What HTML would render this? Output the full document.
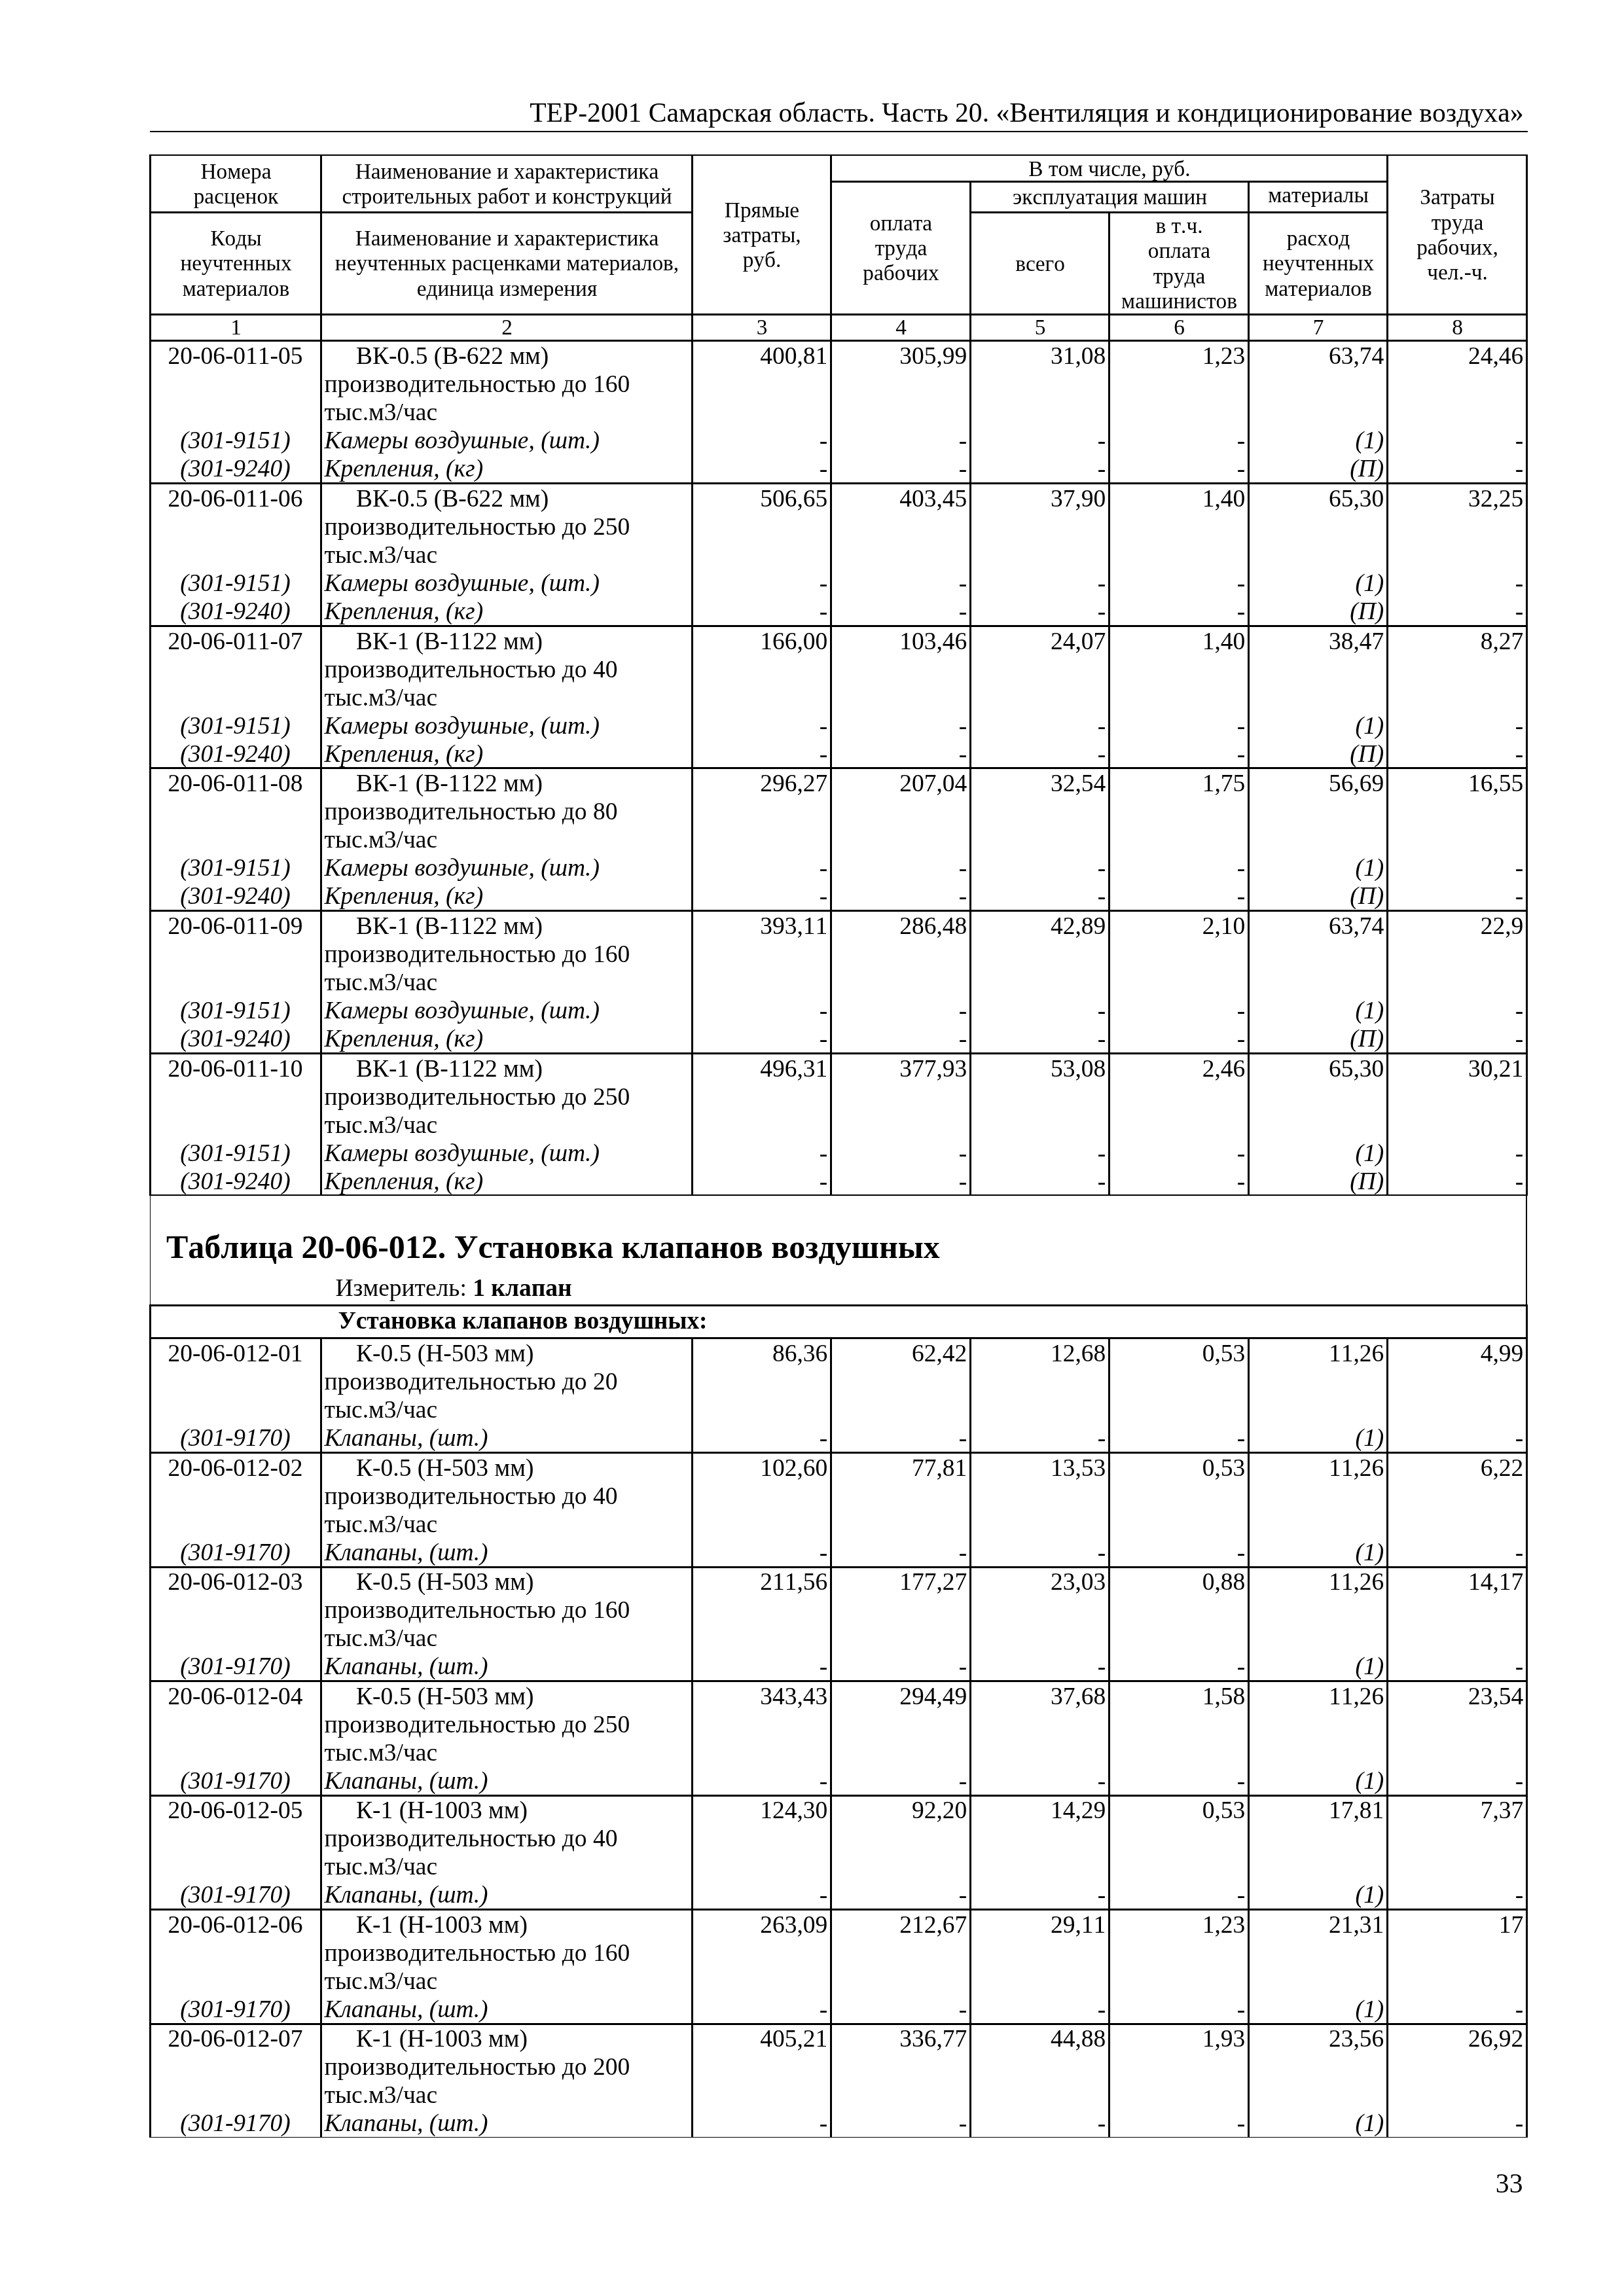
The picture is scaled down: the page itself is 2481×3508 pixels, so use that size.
<!DOCTYPE html>
<html lang="ru"><head><meta charset="utf-8"><title>ТЕР-2001 Самарская область. Часть 20</title>
<style>
html,body{margin:0;padding:0;background:#fff;}
body{filter:grayscale(1);}
body{width:2481px;height:3508px;position:relative;overflow:hidden;font-family:"Liberation Serif","Times New Roman",serif;color:#000;font-kerning:none;font-variant-ligatures:none;font-feature-settings:"kern" 0;}
.r{position:absolute;background:#000;}
.t{position:absolute;white-space:nowrap;}
.i{font-style:italic;}.b{font-weight:bold;}
.s8{font-size:33.333px;line-height:37px;}.s9{font-size:37.5px;line-height:41px;}.s10{font-size:41.667px;line-height:46px;}.s12{font-size:50px;line-height:56px;}
</style></head><body>
<div class="r" style="left:229px;top:200px;width:2105px;height:2px"></div>
<div class="r" style="left:228px;top:236px;width:2106px;height:2px"></div>
<div class="r" style="left:1268px;top:276px;width:853px;height:3px"></div>
<div class="r" style="left:228px;top:323px;width:831px;height:3px"></div>
<div class="r" style="left:1481px;top:323px;width:640px;height:3px"></div>
<div class="r" style="left:228px;top:479px;width:2106px;height:3px"></div>
<div class="r" style="left:228px;top:519px;width:2106px;height:3px"></div>
<div class="r" style="left:228px;top:737px;width:2106px;height:3px"></div>
<div class="r" style="left:228px;top:955px;width:2106px;height:3px"></div>
<div class="r" style="left:228px;top:1172px;width:2106px;height:3px"></div>
<div class="r" style="left:228px;top:1390px;width:2106px;height:3px"></div>
<div class="r" style="left:228px;top:1608px;width:2106px;height:3px"></div>
<div class="r" style="left:228px;top:1825px;width:2106px;height:2px"></div>
<div class="r" style="left:228px;top:236px;width:3px;height:1591px"></div>
<div class="r" style="left:489px;top:236px;width:3px;height:1591px"></div>
<div class="r" style="left:1056px;top:236px;width:3px;height:1591px"></div>
<div class="r" style="left:1268px;top:236px;width:3px;height:1591px"></div>
<div class="r" style="left:2118px;top:236px;width:3px;height:1591px"></div>
<div class="r" style="left:1481px;top:276px;width:3px;height:1551px"></div>
<div class="r" style="left:1906px;top:276px;width:3px;height:1551px"></div>
<div class="r" style="left:1693px;top:323px;width:3px;height:1504px"></div>
<div class="r" style="left:2331px;top:236px;width:3px;height:1591px"></div>
<div class="r" style="left:229px;top:1827px;width:1px;height:166px"></div>
<div class="r" style="left:2331px;top:1827px;width:2px;height:166px"></div>
<div class="r" style="left:228px;top:1993px;width:2106px;height:3px"></div>
<div class="r" style="left:228px;top:2043px;width:2106px;height:3px"></div>
<div class="r" style="left:228px;top:2218px;width:2106px;height:3px"></div>
<div class="r" style="left:228px;top:2393px;width:2106px;height:3px"></div>
<div class="r" style="left:228px;top:2567px;width:2106px;height:3px"></div>
<div class="r" style="left:228px;top:2742px;width:2106px;height:3px"></div>
<div class="r" style="left:228px;top:2916px;width:2106px;height:3px"></div>
<div class="r" style="left:228px;top:3091px;width:2106px;height:3px"></div>
<div class="r" style="left:228px;top:3265px;width:2106px;height:1px"></div>
<div class="r" style="left:228px;top:1993px;width:3px;height:1273px"></div>
<div class="r" style="left:2331px;top:1993px;width:3px;height:1273px"></div>
<div class="r" style="left:489px;top:2043px;width:3px;height:1223px"></div>
<div class="r" style="left:1056px;top:2043px;width:3px;height:1223px"></div>
<div class="r" style="left:1268px;top:2043px;width:3px;height:1223px"></div>
<div class="r" style="left:1481px;top:2043px;width:3px;height:1223px"></div>
<div class="r" style="left:1693px;top:2043px;width:3px;height:1223px"></div>
<div class="r" style="left:1906px;top:2043px;width:3px;height:1223px"></div>
<div class="r" style="left:2118px;top:2043px;width:3px;height:1223px"></div>
<div class="t s10" style="right:153.50px;top:149px;text-align:right">ТЕР-2001 Самарская область. Часть 20. «Вентиляция и кондиционирование воздуха»</div>
<div class="t s8" style="left:-139.50px;width:1000px;top:243px;text-align:center">Номера</div>
<div class="t s8" style="left:-139.50px;width:1000px;top:281px;text-align:center">расценок</div>
<div class="t s8" style="left:-139.50px;width:1000px;top:345px;text-align:center">Коды</div>
<div class="t s8" style="left:-139.50px;width:1000px;top:383px;text-align:center">неучтенных</div>
<div class="t s8" style="left:-139.50px;width:1000px;top:422px;text-align:center">материалов</div>
<div class="t s8" style="left:274.50px;width:1000px;top:243px;text-align:center">Наименование и характеристика</div>
<div class="t s8" style="left:274.50px;width:1000px;top:281px;text-align:center">строительных работ и конструкций</div>
<div class="t s8" style="left:274.50px;width:1000px;top:345px;text-align:center">Наименование и характеристика</div>
<div class="t s8" style="left:274.50px;width:1000px;top:383px;text-align:center">неучтенных расценками материалов,</div>
<div class="t s8" style="left:274.50px;width:1000px;top:422px;text-align:center">единица измерения</div>
<div class="t s8" style="left:664.00px;width:1000px;top:302px;text-align:center">Прямые</div>
<div class="t s8" style="left:664.00px;width:1000px;top:340px;text-align:center">затраты,</div>
<div class="t s8" style="left:664.00px;width:1000px;top:378px;text-align:center">руб.</div>
<div class="t s8" style="left:1195.00px;width:1000px;top:239px;text-align:center">В том числе, руб.</div>
<div class="t s8" style="left:876.50px;width:1000px;top:322px;text-align:center">оплата</div>
<div class="t s8" style="left:876.50px;width:1000px;top:360px;text-align:center">труда</div>
<div class="t s8" style="left:876.50px;width:1000px;top:398px;text-align:center">рабочих</div>
<div class="t s8" style="left:1195.50px;width:1000px;top:282px;text-align:center">эксплуатация машин</div>
<div class="t s8" style="left:1514.00px;width:1000px;top:279px;text-align:center">материалы</div>
<div class="t s8" style="left:1089.00px;width:1000px;top:384px;text-align:center">всего</div>
<div class="t s8" style="left:1301.50px;width:1000px;top:326px;text-align:center">в т.ч.</div>
<div class="t s8" style="left:1301.50px;width:1000px;top:364px;text-align:center">оплата</div>
<div class="t s8" style="left:1301.50px;width:1000px;top:403px;text-align:center">труда</div>
<div class="t s8" style="left:1301.50px;width:1000px;top:441px;text-align:center">машинистов</div>
<div class="t s8" style="left:1514.00px;width:1000px;top:345px;text-align:center">расход</div>
<div class="t s8" style="left:1514.00px;width:1000px;top:383px;text-align:center">неучтенных</div>
<div class="t s8" style="left:1514.00px;width:1000px;top:422px;text-align:center">материалов</div>
<div class="t s8" style="left:1726.50px;width:1000px;top:282px;text-align:center">Затраты</div>
<div class="t s8" style="left:1726.50px;width:1000px;top:321px;text-align:center">труда</div>
<div class="t s8" style="left:1726.50px;width:1000px;top:359px;text-align:center">рабочих,</div>
<div class="t s8" style="left:1726.50px;width:1000px;top:397px;text-align:center">чел.-ч.</div>
<div class="t s8" style="left:-139.50px;width:1000px;top:481px;text-align:center">1</div>
<div class="t s8" style="left:274.50px;width:1000px;top:481px;text-align:center">2</div>
<div class="t s8" style="left:664.00px;width:1000px;top:481px;text-align:center">3</div>
<div class="t s8" style="left:876.50px;width:1000px;top:481px;text-align:center">4</div>
<div class="t s8" style="left:1089.00px;width:1000px;top:481px;text-align:center">5</div>
<div class="t s8" style="left:1301.50px;width:1000px;top:481px;text-align:center">6</div>
<div class="t s8" style="left:1514.00px;width:1000px;top:481px;text-align:center">7</div>
<div class="t s8" style="left:1726.50px;width:1000px;top:481px;text-align:center">8</div>
<div class="t s9" style="left:-140.50px;width:1000px;top:523px;text-align:center">20-06-011-05</div>
<div class="t s9" style="left:544.00px;top:523px">ВК-0.5 (В-622 мм)</div>
<div class="t s9" style="left:495.50px;top:566px">производительностью до 160</div>
<div class="t s9" style="left:495.50px;top:609px">тыс.м3/час</div>
<div class="t s9" style="right:1216.70px;top:523px;text-align:right">400,81</div>
<div class="t s9" style="right:1003.70px;top:523px;text-align:right">305,99</div>
<div class="t s9" style="right:791.70px;top:523px;text-align:right">31,08</div>
<div class="t s9" style="right:578.70px;top:523px;text-align:right">1,23</div>
<div class="t s9" style="right:366.70px;top:523px;text-align:right">63,74</div>
<div class="t s9" style="right:153.70px;top:523px;text-align:right">24,46</div>
<div class="t s9 i" style="left:-140.50px;width:1000px;top:652px;text-align:center">(301-9151)</div>
<div class="t s9 i" style="left:495.50px;top:652px">Камеры воздушные, (шт.)</div>
<div class="t s9 i" style="right:1216.70px;top:653px;text-align:right">-</div>
<div class="t s9 i" style="right:1003.70px;top:653px;text-align:right">-</div>
<div class="t s9 i" style="right:791.70px;top:653px;text-align:right">-</div>
<div class="t s9 i" style="right:578.70px;top:653px;text-align:right">-</div>
<div class="t s9 i" style="right:366.70px;top:652px;text-align:right">(1)</div>
<div class="t s9 i" style="right:153.70px;top:653px;text-align:right">-</div>
<div class="t s9 i" style="left:-140.50px;width:1000px;top:695px;text-align:center">(301-9240)</div>
<div class="t s9 i" style="left:495.50px;top:695px">Крепления, (кг)</div>
<div class="t s9 i" style="right:1216.70px;top:696px;text-align:right">-</div>
<div class="t s9 i" style="right:1003.70px;top:696px;text-align:right">-</div>
<div class="t s9 i" style="right:791.70px;top:696px;text-align:right">-</div>
<div class="t s9 i" style="right:578.70px;top:696px;text-align:right">-</div>
<div class="t s9 i" style="right:366.70px;top:695px;text-align:right">(П)</div>
<div class="t s9 i" style="right:153.70px;top:696px;text-align:right">-</div>
<div class="t s9" style="left:-140.50px;width:1000px;top:741px;text-align:center">20-06-011-06</div>
<div class="t s9" style="left:544.00px;top:741px">ВК-0.5 (В-622 мм)</div>
<div class="t s9" style="left:495.50px;top:784px">производительностью до 250</div>
<div class="t s9" style="left:495.50px;top:827px">тыс.м3/час</div>
<div class="t s9" style="right:1216.70px;top:741px;text-align:right">506,65</div>
<div class="t s9" style="right:1003.70px;top:741px;text-align:right">403,45</div>
<div class="t s9" style="right:791.70px;top:741px;text-align:right">37,90</div>
<div class="t s9" style="right:578.70px;top:741px;text-align:right">1,40</div>
<div class="t s9" style="right:366.70px;top:741px;text-align:right">65,30</div>
<div class="t s9" style="right:153.70px;top:741px;text-align:right">32,25</div>
<div class="t s9 i" style="left:-140.50px;width:1000px;top:870px;text-align:center">(301-9151)</div>
<div class="t s9 i" style="left:495.50px;top:870px">Камеры воздушные, (шт.)</div>
<div class="t s9 i" style="right:1216.70px;top:871px;text-align:right">-</div>
<div class="t s9 i" style="right:1003.70px;top:871px;text-align:right">-</div>
<div class="t s9 i" style="right:791.70px;top:871px;text-align:right">-</div>
<div class="t s9 i" style="right:578.70px;top:871px;text-align:right">-</div>
<div class="t s9 i" style="right:366.70px;top:870px;text-align:right">(1)</div>
<div class="t s9 i" style="right:153.70px;top:871px;text-align:right">-</div>
<div class="t s9 i" style="left:-140.50px;width:1000px;top:913px;text-align:center">(301-9240)</div>
<div class="t s9 i" style="left:495.50px;top:913px">Крепления, (кг)</div>
<div class="t s9 i" style="right:1216.70px;top:914px;text-align:right">-</div>
<div class="t s9 i" style="right:1003.70px;top:914px;text-align:right">-</div>
<div class="t s9 i" style="right:791.70px;top:914px;text-align:right">-</div>
<div class="t s9 i" style="right:578.70px;top:914px;text-align:right">-</div>
<div class="t s9 i" style="right:366.70px;top:913px;text-align:right">(П)</div>
<div class="t s9 i" style="right:153.70px;top:914px;text-align:right">-</div>
<div class="t s9" style="left:-140.50px;width:1000px;top:959px;text-align:center">20-06-011-07</div>
<div class="t s9" style="left:544.00px;top:959px">ВК-1 (В-1122 мм)</div>
<div class="t s9" style="left:495.50px;top:1002px">производительностью до 40</div>
<div class="t s9" style="left:495.50px;top:1045px">тыс.м3/час</div>
<div class="t s9" style="right:1216.70px;top:959px;text-align:right">166,00</div>
<div class="t s9" style="right:1003.70px;top:959px;text-align:right">103,46</div>
<div class="t s9" style="right:791.70px;top:959px;text-align:right">24,07</div>
<div class="t s9" style="right:578.70px;top:959px;text-align:right">1,40</div>
<div class="t s9" style="right:366.70px;top:959px;text-align:right">38,47</div>
<div class="t s9" style="right:153.70px;top:959px;text-align:right">8,27</div>
<div class="t s9 i" style="left:-140.50px;width:1000px;top:1088px;text-align:center">(301-9151)</div>
<div class="t s9 i" style="left:495.50px;top:1088px">Камеры воздушные, (шт.)</div>
<div class="t s9 i" style="right:1216.70px;top:1089px;text-align:right">-</div>
<div class="t s9 i" style="right:1003.70px;top:1089px;text-align:right">-</div>
<div class="t s9 i" style="right:791.70px;top:1089px;text-align:right">-</div>
<div class="t s9 i" style="right:578.70px;top:1089px;text-align:right">-</div>
<div class="t s9 i" style="right:366.70px;top:1088px;text-align:right">(1)</div>
<div class="t s9 i" style="right:153.70px;top:1089px;text-align:right">-</div>
<div class="t s9 i" style="left:-140.50px;width:1000px;top:1131px;text-align:center">(301-9240)</div>
<div class="t s9 i" style="left:495.50px;top:1131px">Крепления, (кг)</div>
<div class="t s9 i" style="right:1216.70px;top:1132px;text-align:right">-</div>
<div class="t s9 i" style="right:1003.70px;top:1132px;text-align:right">-</div>
<div class="t s9 i" style="right:791.70px;top:1132px;text-align:right">-</div>
<div class="t s9 i" style="right:578.70px;top:1132px;text-align:right">-</div>
<div class="t s9 i" style="right:366.70px;top:1131px;text-align:right">(П)</div>
<div class="t s9 i" style="right:153.70px;top:1132px;text-align:right">-</div>
<div class="t s9" style="left:-140.50px;width:1000px;top:1176px;text-align:center">20-06-011-08</div>
<div class="t s9" style="left:544.00px;top:1176px">ВК-1 (В-1122 мм)</div>
<div class="t s9" style="left:495.50px;top:1219px">производительностью до 80</div>
<div class="t s9" style="left:495.50px;top:1262px">тыс.м3/час</div>
<div class="t s9" style="right:1216.70px;top:1176px;text-align:right">296,27</div>
<div class="t s9" style="right:1003.70px;top:1176px;text-align:right">207,04</div>
<div class="t s9" style="right:791.70px;top:1176px;text-align:right">32,54</div>
<div class="t s9" style="right:578.70px;top:1176px;text-align:right">1,75</div>
<div class="t s9" style="right:366.70px;top:1176px;text-align:right">56,69</div>
<div class="t s9" style="right:153.70px;top:1176px;text-align:right">16,55</div>
<div class="t s9 i" style="left:-140.50px;width:1000px;top:1305px;text-align:center">(301-9151)</div>
<div class="t s9 i" style="left:495.50px;top:1305px">Камеры воздушные, (шт.)</div>
<div class="t s9 i" style="right:1216.70px;top:1306px;text-align:right">-</div>
<div class="t s9 i" style="right:1003.70px;top:1306px;text-align:right">-</div>
<div class="t s9 i" style="right:791.70px;top:1306px;text-align:right">-</div>
<div class="t s9 i" style="right:578.70px;top:1306px;text-align:right">-</div>
<div class="t s9 i" style="right:366.70px;top:1305px;text-align:right">(1)</div>
<div class="t s9 i" style="right:153.70px;top:1306px;text-align:right">-</div>
<div class="t s9 i" style="left:-140.50px;width:1000px;top:1348px;text-align:center">(301-9240)</div>
<div class="t s9 i" style="left:495.50px;top:1348px">Крепления, (кг)</div>
<div class="t s9 i" style="right:1216.70px;top:1349px;text-align:right">-</div>
<div class="t s9 i" style="right:1003.70px;top:1349px;text-align:right">-</div>
<div class="t s9 i" style="right:791.70px;top:1349px;text-align:right">-</div>
<div class="t s9 i" style="right:578.70px;top:1349px;text-align:right">-</div>
<div class="t s9 i" style="right:366.70px;top:1348px;text-align:right">(П)</div>
<div class="t s9 i" style="right:153.70px;top:1349px;text-align:right">-</div>
<div class="t s9" style="left:-140.50px;width:1000px;top:1394px;text-align:center">20-06-011-09</div>
<div class="t s9" style="left:544.00px;top:1394px">ВК-1 (В-1122 мм)</div>
<div class="t s9" style="left:495.50px;top:1437px">производительностью до 160</div>
<div class="t s9" style="left:495.50px;top:1480px">тыс.м3/час</div>
<div class="t s9" style="right:1216.70px;top:1394px;text-align:right">393,11</div>
<div class="t s9" style="right:1003.70px;top:1394px;text-align:right">286,48</div>
<div class="t s9" style="right:791.70px;top:1394px;text-align:right">42,89</div>
<div class="t s9" style="right:578.70px;top:1394px;text-align:right">2,10</div>
<div class="t s9" style="right:366.70px;top:1394px;text-align:right">63,74</div>
<div class="t s9" style="right:153.70px;top:1394px;text-align:right">22,9</div>
<div class="t s9 i" style="left:-140.50px;width:1000px;top:1523px;text-align:center">(301-9151)</div>
<div class="t s9 i" style="left:495.50px;top:1523px">Камеры воздушные, (шт.)</div>
<div class="t s9 i" style="right:1216.70px;top:1524px;text-align:right">-</div>
<div class="t s9 i" style="right:1003.70px;top:1524px;text-align:right">-</div>
<div class="t s9 i" style="right:791.70px;top:1524px;text-align:right">-</div>
<div class="t s9 i" style="right:578.70px;top:1524px;text-align:right">-</div>
<div class="t s9 i" style="right:366.70px;top:1523px;text-align:right">(1)</div>
<div class="t s9 i" style="right:153.70px;top:1524px;text-align:right">-</div>
<div class="t s9 i" style="left:-140.50px;width:1000px;top:1566px;text-align:center">(301-9240)</div>
<div class="t s9 i" style="left:495.50px;top:1566px">Крепления, (кг)</div>
<div class="t s9 i" style="right:1216.70px;top:1567px;text-align:right">-</div>
<div class="t s9 i" style="right:1003.70px;top:1567px;text-align:right">-</div>
<div class="t s9 i" style="right:791.70px;top:1567px;text-align:right">-</div>
<div class="t s9 i" style="right:578.70px;top:1567px;text-align:right">-</div>
<div class="t s9 i" style="right:366.70px;top:1566px;text-align:right">(П)</div>
<div class="t s9 i" style="right:153.70px;top:1567px;text-align:right">-</div>
<div class="t s9" style="left:-140.50px;width:1000px;top:1612px;text-align:center">20-06-011-10</div>
<div class="t s9" style="left:544.00px;top:1612px">ВК-1 (В-1122 мм)</div>
<div class="t s9" style="left:495.50px;top:1655px">производительностью до 250</div>
<div class="t s9" style="left:495.50px;top:1698px">тыс.м3/час</div>
<div class="t s9" style="right:1216.70px;top:1612px;text-align:right">496,31</div>
<div class="t s9" style="right:1003.70px;top:1612px;text-align:right">377,93</div>
<div class="t s9" style="right:791.70px;top:1612px;text-align:right">53,08</div>
<div class="t s9" style="right:578.70px;top:1612px;text-align:right">2,46</div>
<div class="t s9" style="right:366.70px;top:1612px;text-align:right">65,30</div>
<div class="t s9" style="right:153.70px;top:1612px;text-align:right">30,21</div>
<div class="t s9 i" style="left:-140.50px;width:1000px;top:1741px;text-align:center">(301-9151)</div>
<div class="t s9 i" style="left:495.50px;top:1741px">Камеры воздушные, (шт.)</div>
<div class="t s9 i" style="right:1216.70px;top:1742px;text-align:right">-</div>
<div class="t s9 i" style="right:1003.70px;top:1742px;text-align:right">-</div>
<div class="t s9 i" style="right:791.70px;top:1742px;text-align:right">-</div>
<div class="t s9 i" style="right:578.70px;top:1742px;text-align:right">-</div>
<div class="t s9 i" style="right:366.70px;top:1741px;text-align:right">(1)</div>
<div class="t s9 i" style="right:153.70px;top:1742px;text-align:right">-</div>
<div class="t s9 i" style="left:-140.50px;width:1000px;top:1784px;text-align:center">(301-9240)</div>
<div class="t s9 i" style="left:495.50px;top:1784px">Крепления, (кг)</div>
<div class="t s9 i" style="right:1216.70px;top:1785px;text-align:right">-</div>
<div class="t s9 i" style="right:1003.70px;top:1785px;text-align:right">-</div>
<div class="t s9 i" style="right:791.70px;top:1785px;text-align:right">-</div>
<div class="t s9 i" style="right:578.70px;top:1785px;text-align:right">-</div>
<div class="t s9 i" style="right:366.70px;top:1784px;text-align:right">(П)</div>
<div class="t s9 i" style="right:153.70px;top:1785px;text-align:right">-</div>
<div class="t s12 b" style="left:254.00px;top:1877px">Таблица 20-06-012. Установка клапанов воздушных</div>
<div class="t s9" style="left:512.50px;top:1947px">Измеритель: <b>1 клапан</b></div>
<div class="t s9 b" style="left:516.50px;top:1997px;letter-spacing:-0.18px">Установка клапанов воздушных:</div>
<div class="t s9" style="left:-140.50px;width:1000px;top:2047px;text-align:center">20-06-012-01</div>
<div class="t s9" style="left:544.00px;top:2047px">К-0.5 (Н-503 мм)</div>
<div class="t s9" style="left:495.50px;top:2090px">производительностью до 20</div>
<div class="t s9" style="left:495.50px;top:2133px">тыс.м3/час</div>
<div class="t s9" style="right:1216.70px;top:2047px;text-align:right">86,36</div>
<div class="t s9" style="right:1003.70px;top:2047px;text-align:right">62,42</div>
<div class="t s9" style="right:791.70px;top:2047px;text-align:right">12,68</div>
<div class="t s9" style="right:578.70px;top:2047px;text-align:right">0,53</div>
<div class="t s9" style="right:366.70px;top:2047px;text-align:right">11,26</div>
<div class="t s9" style="right:153.70px;top:2047px;text-align:right">4,99</div>
<div class="t s9 i" style="left:-140.50px;width:1000px;top:2176px;text-align:center">(301-9170)</div>
<div class="t s9 i" style="left:495.50px;top:2176px">Клапаны, (шт.)</div>
<div class="t s9 i" style="right:1216.70px;top:2177px;text-align:right">-</div>
<div class="t s9 i" style="right:1003.70px;top:2177px;text-align:right">-</div>
<div class="t s9 i" style="right:791.70px;top:2177px;text-align:right">-</div>
<div class="t s9 i" style="right:578.70px;top:2177px;text-align:right">-</div>
<div class="t s9 i" style="right:366.70px;top:2176px;text-align:right">(1)</div>
<div class="t s9 i" style="right:153.70px;top:2177px;text-align:right">-</div>
<div class="t s9" style="left:-140.50px;width:1000px;top:2222px;text-align:center">20-06-012-02</div>
<div class="t s9" style="left:544.00px;top:2222px">К-0.5 (Н-503 мм)</div>
<div class="t s9" style="left:495.50px;top:2265px">производительностью до 40</div>
<div class="t s9" style="left:495.50px;top:2308px">тыс.м3/час</div>
<div class="t s9" style="right:1216.70px;top:2222px;text-align:right">102,60</div>
<div class="t s9" style="right:1003.70px;top:2222px;text-align:right">77,81</div>
<div class="t s9" style="right:791.70px;top:2222px;text-align:right">13,53</div>
<div class="t s9" style="right:578.70px;top:2222px;text-align:right">0,53</div>
<div class="t s9" style="right:366.70px;top:2222px;text-align:right">11,26</div>
<div class="t s9" style="right:153.70px;top:2222px;text-align:right">6,22</div>
<div class="t s9 i" style="left:-140.50px;width:1000px;top:2351px;text-align:center">(301-9170)</div>
<div class="t s9 i" style="left:495.50px;top:2351px">Клапаны, (шт.)</div>
<div class="t s9 i" style="right:1216.70px;top:2352px;text-align:right">-</div>
<div class="t s9 i" style="right:1003.70px;top:2352px;text-align:right">-</div>
<div class="t s9 i" style="right:791.70px;top:2352px;text-align:right">-</div>
<div class="t s9 i" style="right:578.70px;top:2352px;text-align:right">-</div>
<div class="t s9 i" style="right:366.70px;top:2351px;text-align:right">(1)</div>
<div class="t s9 i" style="right:153.70px;top:2352px;text-align:right">-</div>
<div class="t s9" style="left:-140.50px;width:1000px;top:2396px;text-align:center">20-06-012-03</div>
<div class="t s9" style="left:544.00px;top:2396px">К-0.5 (Н-503 мм)</div>
<div class="t s9" style="left:495.50px;top:2439px">производительностью до 160</div>
<div class="t s9" style="left:495.50px;top:2482px">тыс.м3/час</div>
<div class="t s9" style="right:1216.70px;top:2396px;text-align:right">211,56</div>
<div class="t s9" style="right:1003.70px;top:2396px;text-align:right">177,27</div>
<div class="t s9" style="right:791.70px;top:2396px;text-align:right">23,03</div>
<div class="t s9" style="right:578.70px;top:2396px;text-align:right">0,88</div>
<div class="t s9" style="right:366.70px;top:2396px;text-align:right">11,26</div>
<div class="t s9" style="right:153.70px;top:2396px;text-align:right">14,17</div>
<div class="t s9 i" style="left:-140.50px;width:1000px;top:2525px;text-align:center">(301-9170)</div>
<div class="t s9 i" style="left:495.50px;top:2525px">Клапаны, (шт.)</div>
<div class="t s9 i" style="right:1216.70px;top:2526px;text-align:right">-</div>
<div class="t s9 i" style="right:1003.70px;top:2526px;text-align:right">-</div>
<div class="t s9 i" style="right:791.70px;top:2526px;text-align:right">-</div>
<div class="t s9 i" style="right:578.70px;top:2526px;text-align:right">-</div>
<div class="t s9 i" style="right:366.70px;top:2525px;text-align:right">(1)</div>
<div class="t s9 i" style="right:153.70px;top:2526px;text-align:right">-</div>
<div class="t s9" style="left:-140.50px;width:1000px;top:2571px;text-align:center">20-06-012-04</div>
<div class="t s9" style="left:544.00px;top:2571px">К-0.5 (Н-503 мм)</div>
<div class="t s9" style="left:495.50px;top:2614px">производительностью до 250</div>
<div class="t s9" style="left:495.50px;top:2657px">тыс.м3/час</div>
<div class="t s9" style="right:1216.70px;top:2571px;text-align:right">343,43</div>
<div class="t s9" style="right:1003.70px;top:2571px;text-align:right">294,49</div>
<div class="t s9" style="right:791.70px;top:2571px;text-align:right">37,68</div>
<div class="t s9" style="right:578.70px;top:2571px;text-align:right">1,58</div>
<div class="t s9" style="right:366.70px;top:2571px;text-align:right">11,26</div>
<div class="t s9" style="right:153.70px;top:2571px;text-align:right">23,54</div>
<div class="t s9 i" style="left:-140.50px;width:1000px;top:2700px;text-align:center">(301-9170)</div>
<div class="t s9 i" style="left:495.50px;top:2700px">Клапаны, (шт.)</div>
<div class="t s9 i" style="right:1216.70px;top:2701px;text-align:right">-</div>
<div class="t s9 i" style="right:1003.70px;top:2701px;text-align:right">-</div>
<div class="t s9 i" style="right:791.70px;top:2701px;text-align:right">-</div>
<div class="t s9 i" style="right:578.70px;top:2701px;text-align:right">-</div>
<div class="t s9 i" style="right:366.70px;top:2700px;text-align:right">(1)</div>
<div class="t s9 i" style="right:153.70px;top:2701px;text-align:right">-</div>
<div class="t s9" style="left:-140.50px;width:1000px;top:2745px;text-align:center">20-06-012-05</div>
<div class="t s9" style="left:544.00px;top:2745px">К-1 (Н-1003 мм)</div>
<div class="t s9" style="left:495.50px;top:2788px">производительностью до 40</div>
<div class="t s9" style="left:495.50px;top:2831px">тыс.м3/час</div>
<div class="t s9" style="right:1216.70px;top:2745px;text-align:right">124,30</div>
<div class="t s9" style="right:1003.70px;top:2745px;text-align:right">92,20</div>
<div class="t s9" style="right:791.70px;top:2745px;text-align:right">14,29</div>
<div class="t s9" style="right:578.70px;top:2745px;text-align:right">0,53</div>
<div class="t s9" style="right:366.70px;top:2745px;text-align:right">17,81</div>
<div class="t s9" style="right:153.70px;top:2745px;text-align:right">7,37</div>
<div class="t s9 i" style="left:-140.50px;width:1000px;top:2874px;text-align:center">(301-9170)</div>
<div class="t s9 i" style="left:495.50px;top:2874px">Клапаны, (шт.)</div>
<div class="t s9 i" style="right:1216.70px;top:2875px;text-align:right">-</div>
<div class="t s9 i" style="right:1003.70px;top:2875px;text-align:right">-</div>
<div class="t s9 i" style="right:791.70px;top:2875px;text-align:right">-</div>
<div class="t s9 i" style="right:578.70px;top:2875px;text-align:right">-</div>
<div class="t s9 i" style="right:366.70px;top:2874px;text-align:right">(1)</div>
<div class="t s9 i" style="right:153.70px;top:2875px;text-align:right">-</div>
<div class="t s9" style="left:-140.50px;width:1000px;top:2920px;text-align:center">20-06-012-06</div>
<div class="t s9" style="left:544.00px;top:2920px">К-1 (Н-1003 мм)</div>
<div class="t s9" style="left:495.50px;top:2963px">производительностью до 160</div>
<div class="t s9" style="left:495.50px;top:3006px">тыс.м3/час</div>
<div class="t s9" style="right:1216.70px;top:2920px;text-align:right">263,09</div>
<div class="t s9" style="right:1003.70px;top:2920px;text-align:right">212,67</div>
<div class="t s9" style="right:791.70px;top:2920px;text-align:right">29,11</div>
<div class="t s9" style="right:578.70px;top:2920px;text-align:right">1,23</div>
<div class="t s9" style="right:366.70px;top:2920px;text-align:right">21,31</div>
<div class="t s9" style="right:153.70px;top:2920px;text-align:right">17</div>
<div class="t s9 i" style="left:-140.50px;width:1000px;top:3049px;text-align:center">(301-9170)</div>
<div class="t s9 i" style="left:495.50px;top:3049px">Клапаны, (шт.)</div>
<div class="t s9 i" style="right:1216.70px;top:3050px;text-align:right">-</div>
<div class="t s9 i" style="right:1003.70px;top:3050px;text-align:right">-</div>
<div class="t s9 i" style="right:791.70px;top:3050px;text-align:right">-</div>
<div class="t s9 i" style="right:578.70px;top:3050px;text-align:right">-</div>
<div class="t s9 i" style="right:366.70px;top:3049px;text-align:right">(1)</div>
<div class="t s9 i" style="right:153.70px;top:3050px;text-align:right">-</div>
<div class="t s9" style="left:-140.50px;width:1000px;top:3094px;text-align:center">20-06-012-07</div>
<div class="t s9" style="left:544.00px;top:3094px">К-1 (Н-1003 мм)</div>
<div class="t s9" style="left:495.50px;top:3137px">производительностью до 200</div>
<div class="t s9" style="left:495.50px;top:3180px">тыс.м3/час</div>
<div class="t s9" style="right:1216.70px;top:3094px;text-align:right">405,21</div>
<div class="t s9" style="right:1003.70px;top:3094px;text-align:right">336,77</div>
<div class="t s9" style="right:791.70px;top:3094px;text-align:right">44,88</div>
<div class="t s9" style="right:578.70px;top:3094px;text-align:right">1,93</div>
<div class="t s9" style="right:366.70px;top:3094px;text-align:right">23,56</div>
<div class="t s9" style="right:153.70px;top:3094px;text-align:right">26,92</div>
<div class="t s9 i" style="left:-140.50px;width:1000px;top:3223px;text-align:center">(301-9170)</div>
<div class="t s9 i" style="left:495.50px;top:3223px">Клапаны, (шт.)</div>
<div class="t s9 i" style="right:1216.70px;top:3224px;text-align:right">-</div>
<div class="t s9 i" style="right:1003.70px;top:3224px;text-align:right">-</div>
<div class="t s9 i" style="right:791.70px;top:3224px;text-align:right">-</div>
<div class="t s9 i" style="right:578.70px;top:3224px;text-align:right">-</div>
<div class="t s9 i" style="right:366.70px;top:3223px;text-align:right">(1)</div>
<div class="t s9 i" style="right:153.70px;top:3224px;text-align:right">-</div>
<div class="t s10" style="right:154.50px;top:3313px;text-align:right">33</div>
</body></html>
